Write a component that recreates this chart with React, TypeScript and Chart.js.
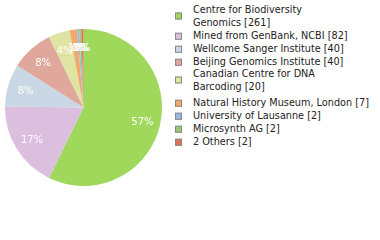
import React, { useEffect, useRef } from "react";
import { Chart, registerables } from "chart.js";

Chart.register(...registerables);

const labels = [
  "Centre for Biodiversity\nGenomics",
  "Mined from GenBank, NCBI",
  "Wellcome Sanger Institute",
  "Beijing Genomics Institute",
  "Canadian Centre for DNA\nBarcoding",
  "Natural History Museum, London",
  "University of Lausanne",
  "Microsynth AG",
  "2 Others",
];
const counts = [261, 82, 40, 40, 20, 7, 2, 2, 2];
const colors = [
  "#a0d85c",
  "#dcbedf",
  "#c9d8e4",
  "#e0a89c",
  "#dfe4a2",
  "#f0aa6e",
  "#98b9e0",
  "#98c878",
  "#e07058",
];
// legend item vertical centres (layout)
const legendCenters = [16, 36, 49, 62, 80, 103, 116, 129, 142];

const total = counts.reduce((a, b) => a + b, 0);

const labelPlugin = {
  id: "sliceLabels",
  afterDatasetsDraw(chart: any) {
    const ctx = chart.ctx;
    const meta = chart.getDatasetMeta(0);
    ctx.save();
    ctx.fillStyle = "#ffffff";
    ctx.font = '10px "DejaVu Sans"';
    ctx.textAlign = "center";
    ctx.textBaseline = "middle";
    meta.data.forEach((arc: any, i: number) => {
      const p = arc.getProps(["x", "y", "startAngle", "endAngle", "outerRadius"], true);
      const mid = (p.startAngle + p.endAngle) / 2;
      const r = p.outerRadius * 0.77;
      const pct = Math.floor((counts[i] / total) * 100) + "%";
      ctx.fillText(pct, p.x + Math.cos(mid) * r, p.y + Math.sin(mid) * r + 1);
    });
    ctx.restore();
  },
};

export default function App() {
  const ref = useRef<HTMLCanvasElement>(null);
  useEffect(() => {
    if (!ref.current) return;
    const chart = new Chart(ref.current, {
      type: "pie",
      data: {
        labels,
        datasets: [
          {
            data: counts,
            backgroundColor: colors,
            borderWidth: 0,
          },
        ],
      },
      options: {
        animation: false,
        responsive: false,
        maintainAspectRatio: false,
        layout: { padding: 0 },
        plugins: {
          legend: { display: false },
          tooltip: { enabled: false },
        },
      },
      plugins: [labelPlugin],
    });
    return () => chart.destroy();
  }, []);

  return (
    <div
      style={{
        position: "fixed",
        left: 0,
        top: 0,
        width: 380,
        height: 240,
        background: "#ffffff",
        overflow: "hidden",
      }}
    >
      <canvas
        ref={ref}
        width={157}
        height={157}
        style={{ position: "absolute", left: 5, top: 29, width: 157, height: 157 }}
      />
      {labels.map((lab, i) => (
        <div
          key={i}
          style={{
            position: "absolute",
            left: 175,
            top: legendCenters[i],
            transform: "translateY(-50%)",
            display: "flex",
            alignItems: "center",
            fontFamily: '"DejaVu Sans"',
            fontSize: 9.7,
            lineHeight: "12.5px",
            color: "#222",
            whiteSpace: "pre",
          }}
        >
          <span
            style={{
              display: "inline-block",
              width: 5,
              height: 5,
              border: "1px solid #888",
              background: colors[i],
              marginRight: 11,
              flexShrink: 0,
            }}
          />
          <span>{lab + " [" + counts[i] + "]"}</span>
        </div>
      ))}
    </div>
  );
}
